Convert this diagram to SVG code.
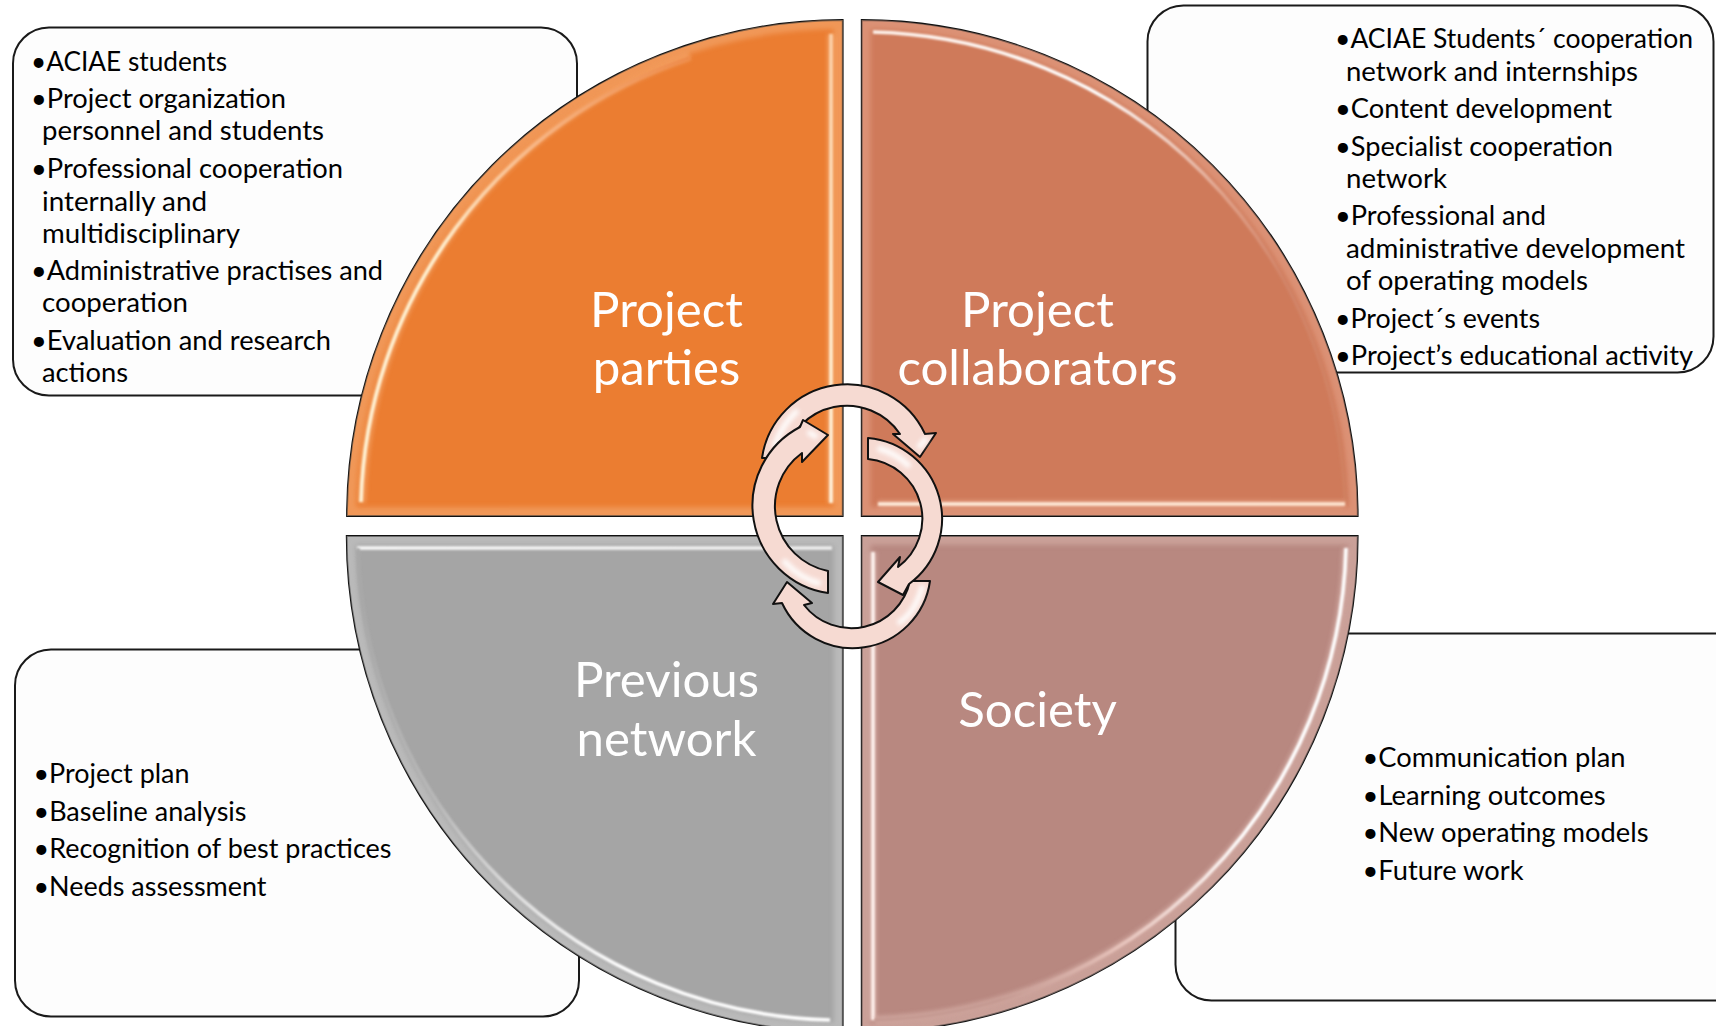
<svg xmlns="http://www.w3.org/2000/svg" width="1716" height="1026" viewBox="0 0 1716 1026">
<style>
.box{fill:#fdfdfd;stroke:#1a1a1a;stroke-width:2}
.t{font-family:"Lato","Carlito","Liberation Sans",sans-serif;font-size:27.2px;fill:#000}
.h{font-family:"Lato","Carlito","Liberation Sans",sans-serif;font-size:49.2px;fill:#fff;text-anchor:middle}
.q{stroke:#111;stroke-width:1.8}
.ring{fill:none;stroke-width:18;filter:url(#b3);opacity:.5}
.core{fill:none;stroke-width:3.6;filter:url(#b1)}
.halo{fill:none;stroke-width:8;filter:url(#b2);opacity:.55}
.arrow{fill:#f6dad2;stroke:#111;stroke-width:2;stroke-linejoin:round}
.shine{fill:none;stroke:#fff;stroke-width:6;stroke-linecap:round;filter:url(#b2);opacity:.85}
</style>
<defs>
<filter id="b1" filterUnits="userSpaceOnUse" x="0" y="0" width="1716" height="1060"><feGaussianBlur stdDeviation="1"/></filter>
<filter id="b2" filterUnits="userSpaceOnUse" x="0" y="0" width="1716" height="1060"><feGaussianBlur stdDeviation="2"/></filter>
<filter id="b3" filterUnits="userSpaceOnUse" x="0" y="0" width="1716" height="1060"><feGaussianBlur stdDeviation="2.5"/></filter>
<clipPath id="cTL"><path d="M842.7,516 L347,516 A496,496 0 0 1 842.7,20 Z"/></clipPath>
<clipPath id="cTR"><path d="M861.7,516 L861.7,20 A496,496 0 0 1 1357.7,516 Z"/></clipPath>
<clipPath id="cBL"><path d="M842.7,536 L842.7,1032 A496,496 0 0 1 346.7,536 Z"/></clipPath>
<clipPath id="cBR"><path d="M861.7,536 L1357.7,536 A496,496 0 0 1 861.7,1032 Z"/></clipPath>
<linearGradient id="gTLa" gradientUnits="userSpaceOnUse" x1="360" y1="500" x2="690" y2="60"><stop offset="0" stop-color="#fff4d8"/><stop offset=".45" stop-color="#fff0d0"/><stop offset=".7" stop-color="#f8b888"/><stop offset="1" stop-color="#ee8c4c"/></linearGradient>
<linearGradient id="gTLr" gradientUnits="userSpaceOnUse" x1="832" y1="30" x2="832" y2="504"><stop offset="0" stop-color="#fbd0a8"/><stop offset=".7" stop-color="#fff0d4"/><stop offset="1" stop-color="#fff4e0"/></linearGradient>
<linearGradient id="gTRa" gradientUnits="userSpaceOnUse" x1="875" y1="30" x2="1340" y2="500"><stop offset="0" stop-color="#fff4ee"/><stop offset=".3" stop-color="#fff"/><stop offset=".55" stop-color="#e0a088"/><stop offset=".7" stop-color="#d28468"/><stop offset="1" stop-color="#d08060"/></linearGradient>
<linearGradient id="gTRb" gradientUnits="userSpaceOnUse" x1="875" y1="504" x2="1345" y2="504"><stop offset="0" stop-color="#ffeede"/><stop offset="1" stop-color="#ffe6d2"/></linearGradient>
<linearGradient id="gBLt" gradientUnits="userSpaceOnUse" x1="358" y1="548" x2="832" y2="548"><stop offset="0" stop-color="#fafafa"/><stop offset="1" stop-color="#f0f0f0"/></linearGradient>
<linearGradient id="gBLa" gradientUnits="userSpaceOnUse" x1="360" y1="600" x2="832" y2="1020"><stop offset="0" stop-color="#a8a8a8"/><stop offset=".3" stop-color="#b8b8b8"/><stop offset=".55" stop-color="#e8e8e8"/><stop offset=".7" stop-color="#fff"/><stop offset="1" stop-color="#fff"/></linearGradient>
<linearGradient id="gBRl" gradientUnits="userSpaceOnUse" x1="874" y1="548" x2="874" y2="1026"><stop offset="0" stop-color="#fff4f0"/><stop offset="1" stop-color="#fff0ec"/></linearGradient>
<linearGradient id="gBRa" gradientUnits="userSpaceOnUse" x1="1345" y1="548" x2="1000" y2="1000"><stop offset="0" stop-color="#fff"/><stop offset=".5" stop-color="#fff"/><stop offset=".8" stop-color="#e6c2ba"/><stop offset="1" stop-color="#c59a92"/></linearGradient>
</defs>
<rect width="1716" height="1026" fill="#fff"/>

<g id="box-project-parties">
<rect class="box" x="13" y="27.500" width="564" height="368" rx="36"/>
<text class="t" x="31" y="71" textLength="196" lengthAdjust="spacingAndGlyphs">•ACIAE students</text>
<text class="t" x="31" y="108" textLength="255" lengthAdjust="spacingAndGlyphs">•Project organization</text>
<text class="t" x="42" y="140" textLength="282" lengthAdjust="spacingAndGlyphs">personnel and students</text>
<text class="t" x="31" y="178" textLength="312" lengthAdjust="spacingAndGlyphs">•Professional cooperation</text>
<text class="t" x="42" y="211" textLength="165" lengthAdjust="spacingAndGlyphs">internally and</text>
<text class="t" x="42" y="243" textLength="198" lengthAdjust="spacingAndGlyphs">multidisciplinary</text>
<text class="t" x="31" y="280" textLength="352" lengthAdjust="spacingAndGlyphs">•Administrative practises and</text>
<text class="t" x="42" y="312" textLength="146" lengthAdjust="spacingAndGlyphs">cooperation</text>
<text class="t" x="31" y="350" textLength="300" lengthAdjust="spacingAndGlyphs">•Evaluation and research</text>
<text class="t" x="42" y="382" textLength="86" lengthAdjust="spacingAndGlyphs">actions</text>
</g>
<g id="box-project-collaborators">
<rect class="box" x="1147.500" y="5.500" width="566" height="367" rx="36"/>
<text class="t" x="1335" y="48" textLength="358" lengthAdjust="spacingAndGlyphs">•ACIAE Students´ cooperation</text>
<text class="t" x="1346" y="81" textLength="292" lengthAdjust="spacingAndGlyphs">network and internships</text>
<text class="t" x="1335" y="118" textLength="277" lengthAdjust="spacingAndGlyphs">•Content development</text>
<text class="t" x="1335" y="156" textLength="278" lengthAdjust="spacingAndGlyphs">•Specialist cooperation</text>
<text class="t" x="1346" y="188" textLength="101" lengthAdjust="spacingAndGlyphs">network</text>
<text class="t" x="1335" y="225" textLength="211" lengthAdjust="spacingAndGlyphs">•Professional and</text>
<text class="t" x="1346" y="258" textLength="339" lengthAdjust="spacingAndGlyphs">administrative development</text>
<text class="t" x="1346" y="290" textLength="242" lengthAdjust="spacingAndGlyphs">of operating models</text>
<text class="t" x="1335" y="328" textLength="205" lengthAdjust="spacingAndGlyphs">•Project´s events</text>
<text class="t" x="1335" y="365" textLength="358" lengthAdjust="spacingAndGlyphs">•Project’s educational activity</text>
</g>
<g id="box-previous-network">
<rect class="box" x="15" y="649.500" width="564" height="367" rx="36"/>
<text class="t" x="33.500" y="783" textLength="156" lengthAdjust="spacingAndGlyphs">•Project plan</text>
<text class="t" x="33.500" y="821" textLength="213" lengthAdjust="spacingAndGlyphs">•Baseline analysis</text>
<text class="t" x="33.500" y="858" textLength="358" lengthAdjust="spacingAndGlyphs">•Recognition of best practices</text>
<text class="t" x="33.500" y="896" textLength="233" lengthAdjust="spacingAndGlyphs">•Needs assessment</text>
</g>
<g id="box-society">
<rect class="box" x="1175.500" y="633.500" width="575" height="367" rx="36"/>
<text class="t" x="1362.500" y="767" textLength="263" lengthAdjust="spacingAndGlyphs">•Communication plan</text>
<text class="t" x="1362.500" y="805" textLength="243" lengthAdjust="spacingAndGlyphs">•Learning outcomes</text>
<text class="t" x="1362.500" y="842" textLength="286" lengthAdjust="spacingAndGlyphs">•New operating models</text>
<text class="t" x="1362.500" y="880" textLength="161" lengthAdjust="spacingAndGlyphs">•Future work</text>
</g>

<g id="node-project-parties">
<path class="q" fill="#eb7d31" d="M842.7,516 L347,516 A496,496 0 0 1 842.7,20 Z"/>
<g clip-path="url(#cTL)">
<path class="ring" stroke="#f6b27f" d="M842.7,516 L347,516 A496,496 0 0 1 842.7,20 Z"/>
<path class="halo" stroke="#f8b078" d="M362,503 A483,483 0 0 1 690,56"/><path class="core" stroke="url(#gTLa)" d="M361,502 A482,482 0 0 1 690,58"/>
<path class="halo" stroke="#f8b078" d="M831,34 L831,503"/><path class="core" stroke="url(#gTLr)" d="M831,34 L831,503"/>
</g>
<text class="h" x="666.500" y="327">Project</text><text class="h" x="666.500" y="385">parties</text>
</g>
<g id="node-project-collaborators">
<path class="q" fill="#cf7a5a" d="M861.7,516 L861.7,20 A496,496 0 0 1 1357.7,516 Z"/>
<g clip-path="url(#cTR)">
<path class="ring" stroke="#e8a890" d="M861.7,516 L861.7,20 A496,496 0 0 1 1357.7,516 Z"/>
<path class="core" stroke="url(#gTRa)" d="M873,32 A484,484 0 0 1 1345,504"/>
<path class="halo" stroke="#eaa88e" d="M878,504 L1345,504"/><path class="core" stroke="url(#gTRb)" d="M878,504 L1345,504"/>
</g>
<text class="h" x="1037.500" y="327">Project</text><text class="h" x="1037.500" y="385">collaborators</text>
</g>
<g id="node-previous-network">
<path class="q" fill="#a5a5a5" d="M842.7,536 L842.7,1032 A496,496 0 0 1 346.7,536 Z"/>
<g clip-path="url(#cBL)">
<path class="ring" stroke="#cecece" d="M842.7,536 L842.7,1032 A496,496 0 0 1 346.7,536 Z"/>
<path class="core" stroke="url(#gBLt)" d="M357,548 L832,548"/>
<path class="core" stroke="url(#gBLa)" d="M358,548 A484,484 0 0 0 830,1020"/>
</g>
<text class="h" x="666.500" y="697">Previous</text><text class="h" x="666.500" y="756">network</text>
</g>
<g id="node-society">
<path class="q" fill="#b88880" d="M861.7,536 L1357.700,536 A496,496 0 0 1 861.7,1032 Z"/>
<g clip-path="url(#cBR)">
<path class="ring" stroke="#dcb8b0" d="M861.7,536 L1357.700,536 A496,496 0 0 1 861.7,1032 Z"/>
<path class="halo" stroke="#e0bcb4" d="M873,552 L873,1020"/><path class="core" stroke="url(#gBRl)" d="M873,552 L873,1020"/>
<path class="halo" stroke="#e0bcb4" d="M1346,548 A484,484 0 0 1 875,1020"/><path class="core" stroke="url(#gBRa)" d="M1346,548 A484,484 0 0 1 875,1020"/>
</g>
<text class="h" x="1037.500" y="727">Society</text>
</g>

<g id="connectors">
<path class="arrow" d="M762,458 A86,86 0 0 1 925,434 L936,433 L920,457 L893,434 L900,434 A64,64 0 0 0 784,458 Z"/>
<path class="shine" d="M775,445 Q782,425 796,412"/>
<path class="shine" d="M920,446 L925,440"/>
<path class="arrow" d="M930,581 A78,78 0 0 1 782,603 L773,604 L787,582 L812,603 L804,605 A60,60 0 0 0 910,581 Z"/>
<path class="shine" d="M922,588 Q915,612 900,622"/>
<path class="arrow" d="M868,438 A81,81 0 0 1 909,584 L903,595 L878,582 L900,557 L898,567 A60,60 0 0 0 868,459 Z"/>
<path class="shine" d="M880,449 Q895,453 908,465"/>
<path class="arrow" d="M828,593 A88.500,88.500 0 0 1 800,427 L803,420 L828,435 L802,462 L802,453 A66,66 0 0 0 828,571 Z"/>
<path class="shine" d="M785,562 Q800,578 818,583"/>
<path class="shine" d="M810,433 L815,436"/>
</g>
</svg>
